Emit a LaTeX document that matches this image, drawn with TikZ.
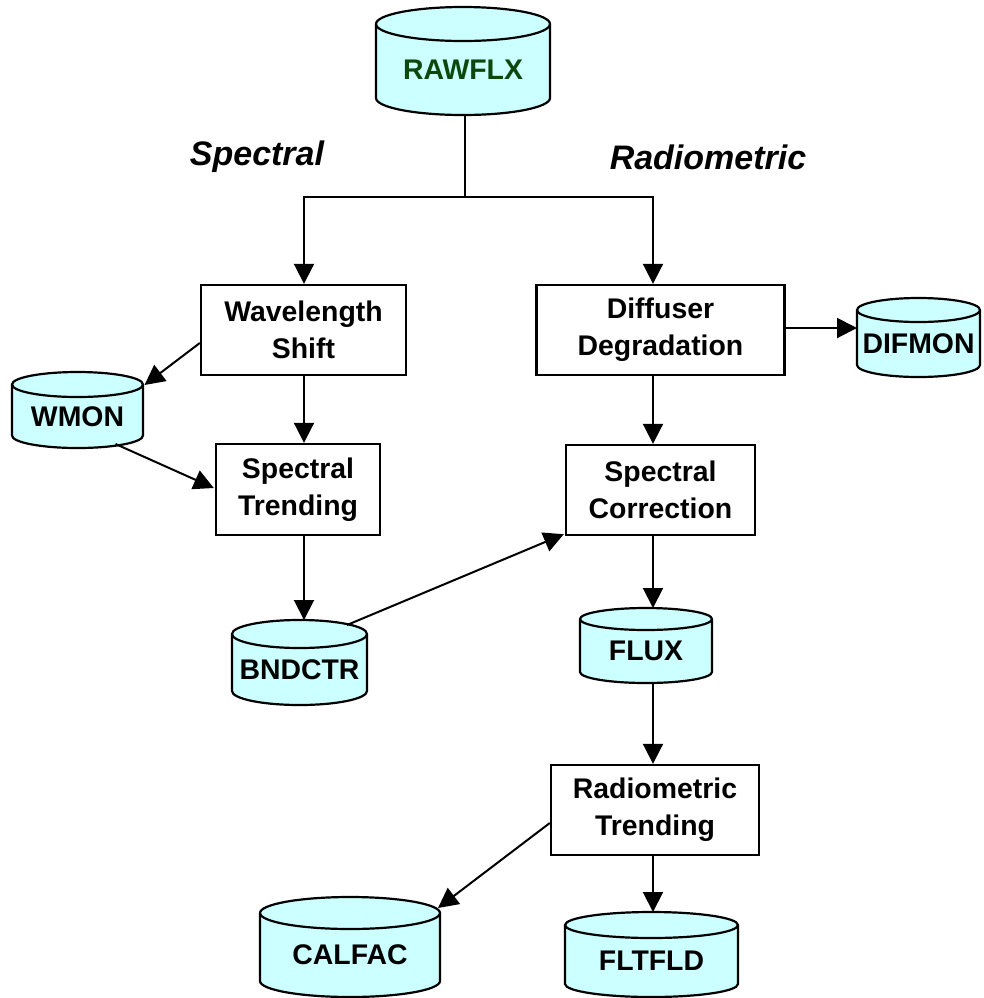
\documentclass[tikz,border=0pt]{standalone}
\usepackage{fontspec}
\setmainfont{Liberation Sans}
\usetikzlibrary{arrows.meta,calc}

\definecolor{dbfill}{HTML}{CCFFFF}
\definecolor{rawgreen}{RGB}{12,72,12}

\tikzset{
  procbox/.style={draw, line width=1.2pt, fill=white, align=center,
    font=\fontsize{14.2pt}{18.5pt}\selectfont\bfseries, inner sep=0pt},
  dbbox/.style={rectangle, inner sep=0pt, outer sep=0pt},
  dbline/.style={draw=black, fill=dbfill, line width=1.1pt},
  dbtext/.style={font=\fontsize{14.2pt}{17pt}\selectfont\bfseries, inner sep=0pt},
  rawtext/.style={dbtext, text=rawgreen},
  branch/.style={font=\fontsize{17pt}{20pt}\selectfont\bfseries\itshape, inner sep=0pt},
  flow/.style={line width=1pt, -{Triangle[length=10pt,width=10pt]}},
  wire/.style={line width=1pt}
}

% data store drawn as a cylinder: name, centre x, top, bottom, x radius, y radius, text style, text
\newcommand\datastore[8]{%
  \node[dbbox, minimum width={#5*1pt}, minimum height={(#4-#3)*0.5pt}] (#1) at (#2,{(#3+#4)/2}) {};
  \filldraw[dbline] ({#2-#5},{#3+#6}) -- ({#2-#5},{#4-#6})
    arc[start angle=180, end angle=360, x radius={#5*0.5pt}, y radius={#6*0.5pt}]
    -- ({#2+#5},{#3+#6})
    arc[start angle=0, end angle=180, x radius={#5*0.5pt}, y radius={#6*0.5pt}] -- cycle;
  \draw[dbline, fill=none] ({#2-#5},{#3+#6})
    arc[start angle=180, end angle=360, x radius={#5*0.5pt}, y radius={#6*0.5pt}];
  \node[#7] (#1-t) at (#2,{(#3+#6+#4)/2}) {#8};
}

\begin{document}
\begin{tikzpicture}[x=0.5pt, y=-0.5pt]
  \useasboundingbox (0,0) rectangle (984,998);

  % data stores
  \datastore{raw}{463}{7}{115}{87}{17}{rawtext}{RAWFLX}
  \datastore{wmon}{77.5}{372}{448}{65.5}{12.5}{dbtext}{WMON}
  \datastore{difmon}{918.5}{298}{377}{61.5}{12}{dbtext}{DIFMON}
  \datastore{bnd}{299.5}{620}{705}{67.5}{14}{dbtext}{BNDCTR}
  \datastore{flux}{646}{608}{683}{66}{11}{dbtext}{FLUX}
  \datastore{calfac}{350}{897}{997}{90}{16}{dbtext}{CALFAC}
  \datastore{fltfld}{651.5}{912}{997}{86.5}{13}{dbtext}{FLTFLD}

  % processing steps
  \node[procbox, minimum width=102.5pt, minimum height=45pt] (wshift) at (303.5,330) {Wavelength\\Shift};
  \node[procbox, minimum width=124pt, minimum height=45pt] (diff) at (660.5,330) {Diffuser\\Degradation};
  \node[procbox, minimum width=82pt, minimum height=45.5pt] (strend) at (298,489.5) {Spectral\\Trending};
  \node[procbox, minimum width=94.5pt, minimum height=45pt] (scorr) at (660.5,490) {Spectral\\Correction};
  \node[procbox, minimum width=104pt, minimum height=45pt] (rtrend) at (655,810) {Radiometric\\Trending};

  % branch headings
  \node[branch] (hspec) at (257,157) {Spectral};
  \node[branch] (hrad) at (708,157) {Radiometric};

  % column guides and split point
  \coordinate (colL) at (304,0);
  \coordinate (colR) at (653,0);
  \coordinate (split) at (465,197);

  % split from RAWFLX into the two branches
  \draw[wire] (raw.south -| split) -- (split);
  \draw[flow] (split) -| (wshift.north -| colL);
  \draw[flow] (split) -| (diff.north -| colR);

  % spectral branch
  \draw[flow] (wshift.south -| colL) -- (strend.north -| colL);
  \draw[flow] ($(wshift.west)+(0,13)$) -- ($(wmon.north east)+(1.5,13)$);
  \draw[flow] ($(wmon.south)+(38,-4)$) -- ($(strend.west)+(-1,-1.5)$);
  \draw[flow] (strend.south -| colL) -- (bnd.north -| colL);

  % radiometric branch
  \draw[flow] ($(diff.east)+(0,-2)$) -- ($(difmon.west)+(0,-9.5)$);
  \draw[flow] (diff.south -| colR) -- (scorr.north -| colR);
  \draw[flow] ($(bnd.north)+(47.5,5)$) -- ($(scorr.south west)+(-1,-2)$);
  \draw[flow] (scorr.south -| colR) -- (flux.north -| colR);
  \draw[flow] (flux.south -| colR) -- (rtrend.north -| colR);
  \draw[flow] ($(rtrend.west)+(0,13)$) -- ($(calfac.north east)+(-2,11)$);
  \draw[flow] (rtrend.south -| colR) -- (fltfld.north -| colR);
\end{tikzpicture}
\end{document}
